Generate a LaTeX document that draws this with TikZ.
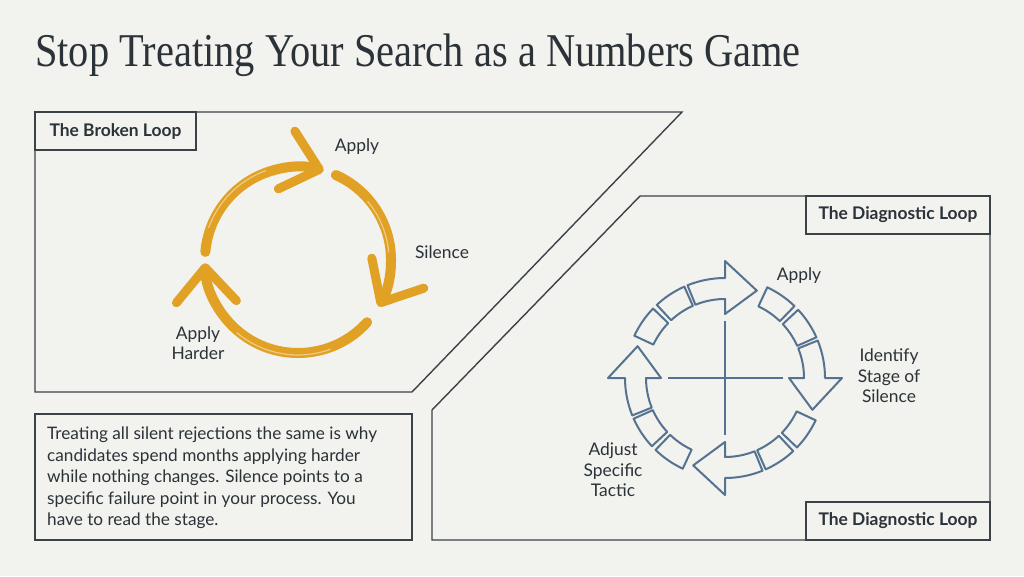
\documentclass[tikz,border=0pt]{standalone}
\usepackage{fontspec}
\setmainfont{Lato}
\newfontfamily\titulo[FakeStretch=0.86]{Liberation Serif}
\usetikzlibrary{arrows.meta}
\definecolor{fondo}{HTML}{F2F2EE}
\definecolor{pizarra}{HTML}{3A4247}
\definecolor{tinta}{HTML}{2B3238}
\definecolor{ocre}{HTML}{E0A124}
\definecolor{acero}{HTML}{557390}
\tikzset{
  marco/.style={draw=pizarra, line width=1.4pt},
  cabecera/.style={font=\fontsize{17.4}{20}\selectfont\bfseries, text=tinta},
  etiqueta/.style={font=\fontsize{17.4}{20.5}\selectfont, text=tinta, align=center},
  pincel/.style={line width=10pt, draw=ocre, line cap=round,
                 -{Straight Barb[length=34pt, width=60pt, line width=9pt, round]}},
  veta/.style={line width=1.2pt, draw=ocre!55!white, line cap=round},
  pieza/.style={draw=acero, line width=2pt, line join=round}
}
\begin{document}
\begin{tikzpicture}[x=1pt, y=1pt]
  \useasboundingbox [fill=fondo] (0,0) rectangle (1024,576);
  % Titulo
  \node (titulo) [anchor=base west, text=tinta, inner sep=0pt,
                  font=\titulo\fontsize{47}{54}\selectfont] at (35,509)
        {Stop Treating Your Search as a Numbers Game};
  % Panel izquierdo: el bucle roto
  \draw [marco] (35,464) -- (682,464) -- (412,184) -- (35,184) -- cycle;
  \draw [marco] (35,464) rectangle (196,426);
  \node (rotot) [cabecera] at (115.5,445) {The Broken Loop};
  \begin{scope}[shift={(298,316)}]
    \draw [pincel] (175:93) arc[start angle=175, end angle=74, radius=93];
    \draw [pincel] (66:93) arc[start angle=66, end angle=-30, radius=93];
    \draw [pincel] (-42:93) arc[start angle=-42, end angle=-178, radius=93];
    \draw [veta] (160:95) arc[start angle=160, end angle=110, radius=95];
    \draw [veta] (40:91) arc[start angle=40, end angle=5, radius=91];
    \draw [veta] (-70:95) arc[start angle=-70, end angle=-130, radius=95];
  \end{scope}
  \node (ap1) [etiqueta] at (357,429) {Apply};
  \node (si1) [etiqueta] at (442,324) {Silence};
  \node (ah1) [etiqueta] at (198,233) {Apply\\ Harder};
  % Texto inferior
  \draw [marco] (35,162) rectangle (412,36);
  \node (nota) [anchor=north west, text=tinta, align=left, inner sep=0pt,
                font=\fontsize{17.2}{21.5}\selectfont] at (47,149)
        {Treating all silent rejections the same is why\\
         candidates spend months applying harder\\
         while nothing changes. Silence points to a\\
         specific failure point in your process. You\\
         have to read the stage.};
  % Panel derecho: el bucle diagnostico
  \draw [marco] (432,36) -- (432,166) -- (640,380) -- (990,380) -- (990,36) -- cycle;
  \draw [marco] (806,380) rectangle (990,342);
  \draw [marco] (806,74) rectangle (990,36);
  \node (diag1) [cabecera] at (898,361) {The Diagnostic Loop};
  \node (diag2) [cabecera] at (898,55) {The Diagnostic Loop};
  \begin{scope}[shift={(725,198)}]
    \draw [acero, line width=1.4pt] (-57,0) -- (58,0) (0,57) -- (0,-57);
    \foreach \a in {90,0,-90,-180}{
      \draw [pieza] (\a+22:79) arc[start angle=\a+22, end angle=\a, radius=79]
        -- (\a:64) -- (\a-20:93) -- (\a:117) -- (\a:100)
        arc[start angle=\a, end angle=\a+22, radius=100] -- cycle;
      \foreach \b in {-25,-47}{
        \draw [pieza] (\a+\b:79) arc[start angle=\a+\b, end angle=\a+\b-19, radius=79]
          -- (\a+\b-19:100) arc[start angle=\a+\b-19, end angle=\a+\b, radius=100] -- cycle;
      }
    }
  \end{scope}
  \node (ap2) [etiqueta] at (799,300) {Apply};
  \node (id2) [etiqueta] at (889,200) {Identify\\ Stage of\\ Silence};
  \node (aj2) [etiqueta] at (613,106) {Adjust\\ Specific\\ Tactic};
\end{tikzpicture}
\end{document}
